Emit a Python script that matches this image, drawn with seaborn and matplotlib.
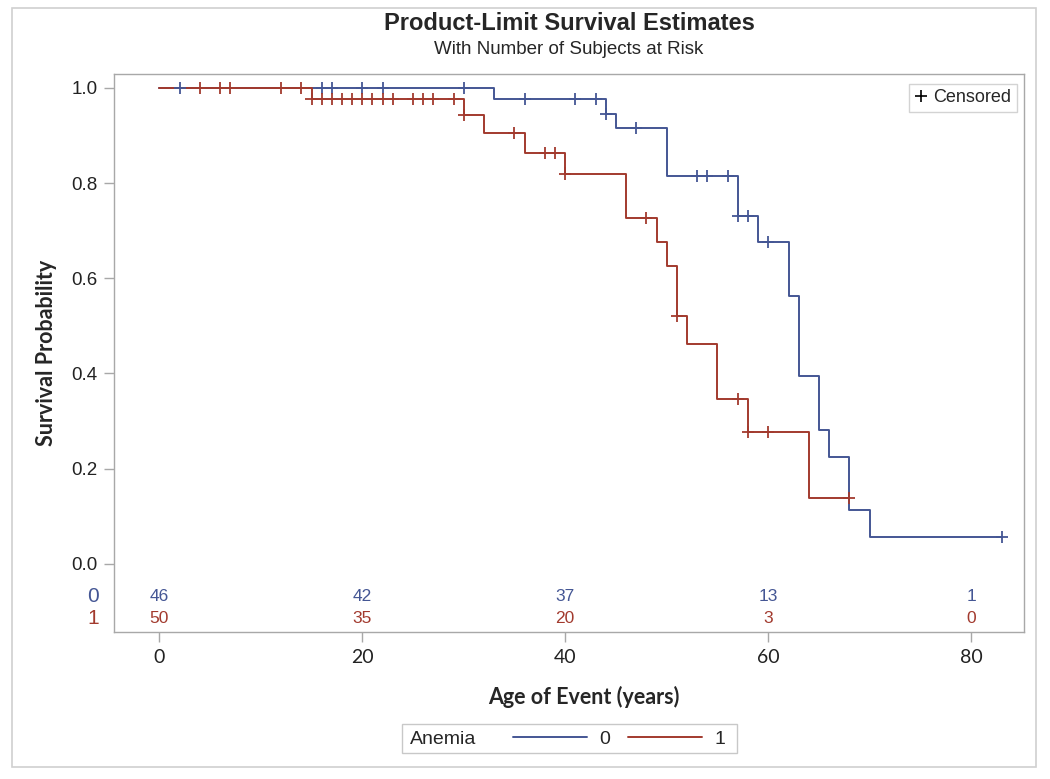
import numpy as np
import pandas as pd
import matplotlib
matplotlib.use("Agg")
import matplotlib.pyplot as plt
import seaborn as sns
from matplotlib.lines import Line2D
from matplotlib.patches import Rectangle

# ---------------- data ----------------
groups = ["0", "1"]
blue_times = [0, 33, 44, 45, 50, 57, 59, 62, 63, 65, 66, 68, 70, 83]
blue_surv = [1.0, 0.976, 0.945, 0.915, 0.815, 0.730, 0.676, 0.563, 0.394, 0.282, 0.225, 0.113, 0.056, 0.056]
red_times = [0, 15, 30, 32, 36, 40, 46, 49, 50, 51, 52, 55, 58, 64, 68]
red_surv = [1.0, 0.976, 0.942, 0.906, 0.864, 0.820, 0.727, 0.676, 0.626, 0.521, 0.462, 0.347, 0.277, 0.139, 0.139]
blue_censor = [2, 16, 17, 20, 22, 30, 36, 41, 43, 44, 47, 53, 54, 56, 57, 58, 60, 83]
red_censor = [4, 6, 7, 12, 14, 15, 16, 17, 18, 19, 20, 21, 22, 23, 25, 26, 27, 29,
              30, 35, 38, 39, 40, 48, 51, 57, 58, 60, 68]
risk_times = [0, 20, 40, 60, 80]
blue_risk = [46, 42, 37, 13, 1]
red_risk = [50, 35, 20, 3, 0]
x_ticks = [0, 20, 40, 60, 80]
y_ticks = [0.0, 0.2, 0.4, 0.6, 0.8, 1.0]

BLUE = "#445694"
RED = "#A23A2E"
GRAY = "#a8a8a8"
palette = {"0": BLUE, "1": RED}

# ---------------- tables ----------------
curve_df = pd.concat([
    pd.DataFrame({"time": blue_times, "surv": blue_surv, "group": "0"}),
    pd.DataFrame({"time": red_times, "surv": red_surv, "group": "1"}),
], ignore_index=True)


def step_value(times, surv, t):
    idx = np.searchsorted(np.asarray(times), t, side="right") - 1
    return float(np.asarray(surv)[idx])


censor_df = pd.concat([
    pd.DataFrame({"time": blue_censor,
                  "surv": [step_value(blue_times, blue_surv, c) for c in blue_censor],
                  "group": "0"}),
    pd.DataFrame({"time": red_censor,
                  "surv": [step_value(red_times, red_surv, c) for c in red_censor],
                  "group": "1"}),
], ignore_index=True)

# ---------------- figure ----------------
sns.set_theme(style="white")
plt.rcParams["font.family"] = ["Liberation Sans", "DejaVu Sans"]

W, H = 1050, 779
fig = plt.figure(figsize=(W / 100, H / 100), dpi=100)
ax_l, ax_r, ax_t, ax_b = 114, 1024, 74, 632
ax = fig.add_axes([ax_l / W, 1 - ax_b / H, (ax_r - ax_l) / W, (ax_b - ax_t) / H])

sns.lineplot(data=curve_df, x="time", y="surv", hue="group", hue_order=groups,
             palette=palette, estimator=None, drawstyle="steps-post",
             linewidth=1.4, legend=False, ax=ax)
sns.scatterplot(data=censor_df, x="time", y="surv", hue="group", hue_order=groups,
                palette=palette, marker="+", s=75, linewidth=1.3,
                legend=False, ax=ax, zorder=4)

ax.set_xlim(-4.46, 85.2)
ax.set_ylim(-0.143, 1.029)
ax.set_xticks(x_ticks)
ax.set_yticks(y_ticks)
ax.set_yticklabels([f"{v:.1f}" for v in y_ticks], fontsize=13.5, color="#222222")
ax.set_xticklabels([str(v) for v in x_ticks], fontsize=14, color="#222222",
                   family=["Lato", "DejaVu Sans"])
ax.tick_params(axis="both", which="both", direction="out", length=7, width=1,
               color=GRAY, bottom=True, left=True, pad=5)
for sp in ax.spines.values():
    sp.set_color(GRAY)
    sp.set_linewidth(1.0)

ax.set_xlabel("Age of Event (years)", fontsize=15.5, fontweight="bold",
              family=["Lato", "DejaVu Sans"])
ax.set_ylabel("Survival Probability", fontsize=15.5, fontweight="bold",
              family=["Lato", "DejaVu Sans"])
ax.xaxis.set_label_coords((584 - ax_l) / (ax_r - ax_l), -(697 - ax_b) / (ax_b - ax_t))
ax.yaxis.set_label_coords(-(ax_l - 47) / (ax_r - ax_l), 0.5)
ax.xaxis.label.set_va("center")
ax.yaxis.label.set_va("center")

# at-risk table inside the axes
row_y = {"0": -0.069, "1": -0.1155}
for g, vals in (("0", blue_risk), ("1", red_risk)):
    for t, n in zip(risk_times, vals):
        ax.text(t, row_y[g], str(n), color=palette[g], fontsize=12.5, ha="center",
                va="center", family=["Liberation Sans Narrow", "Liberation Sans"])
    ax.text((93 - ax_l) / (ax_r - ax_l), row_y[g], g, color=palette[g], fontsize=15,
            ha="center", va="center",
            transform=ax.get_yaxis_transform())

# censored legend
cens_handle = Line2D([], [], marker="+", linestyle="none", color="black",
                     markersize=9, markeredgewidth=1.2)
leg = ax.legend(handles=[cens_handle], labels=["Censored"], loc="upper right",
                bbox_to_anchor=(1 - 7 / (ax_r - ax_l), 1 - 10 / (ax_b - ax_t)),
                borderaxespad=0, frameon=True, fancybox=False, fontsize=13,
                handlelength=0.7, handletextpad=0.35, borderpad=0.3)
leg.get_frame().set_edgecolor("#c8c8c8")
leg.get_frame().set_linewidth(1.0)

# titles
fig.text(569 / W, 1 - 24 / H, "Product-Limit Survival Estimates", fontsize=17,
         fontweight="bold", ha="center", va="center")
fig.text(569 / W, 1 - 49 / H, "With Number of Subjects at Risk", fontsize=13.5,
         ha="center", va="center")

# bottom group legend
fig.patches.append(Rectangle((402 / W, 1 - 753 / H), (737 - 402) / W, (753 - 724) / H,
                             transform=fig.transFigure, fill=False,
                             edgecolor="#c8c8c8", linewidth=1.0))
fig.text(410 / W, 1 - 739 / H, "Anemia", fontsize=14, ha="left", va="center")
grp_handles = [Line2D([], [], color=BLUE, linewidth=1.4),
               Line2D([], [], color=RED, linewidth=1.4)]
fig.legend(handles=grp_handles, labels=groups, loc="center left",
           bbox_to_anchor=(513 / W, 1 - 739 / H), ncol=2, frameon=False,
           fontsize=14, handlelength=3.8, handletextpad=0.65, columnspacing=0.9,
           borderaxespad=0, borderpad=0)

# outer frame
fig.patches.append(Rectangle((12 / W, 1 - 767 / H), (1036 - 12) / W, (767 - 8) / H,
                             transform=fig.transFigure, fill=False,
                             edgecolor="#d0d0d0", linewidth=1.2))

fig.savefig("out.png", dpi=100, facecolor="white")
